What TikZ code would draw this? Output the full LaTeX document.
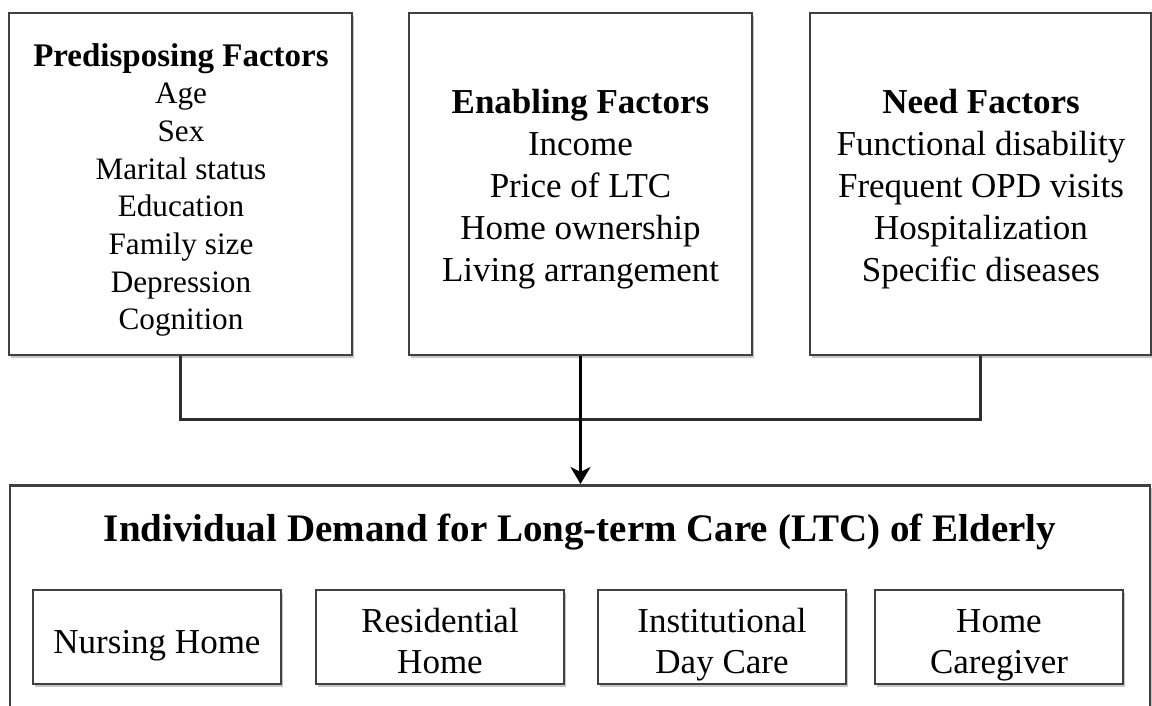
\documentclass[tikz,border=0pt]{standalone}
\usepackage{fontspec}
\setmainfont{Liberation Serif}
\usetikzlibrary{arrows.meta,shadows}
\definecolor{frame}{HTML}{404040}
\definecolor{wire}{HTML}{2E2E2E}

\begin{document}
\begin{tikzpicture}[x=1pt,y=-1pt,
  box/.style={draw=frame, line width=2.5pt, fill=white, inner sep=0pt,
    drop shadow={shadow xshift=2pt, shadow yshift=-2.5pt, fill=black, opacity=0.22}},
  txt/.style={anchor=base, inner sep=0pt, align=center},
  conn/.style={draw=wire, line width=3pt},
  feed/.style={draw=black, line width=3.5pt, -{Stealth[length=17pt,width=20pt,inset=5pt]}},
  factorbox/.style={box, minimum width=343pt, minimum height=342pt},
  carebox/.style={box, minimum width=248pt, minimum height=94pt},
]
\useasboundingbox (0,0) rectangle (1152,705);
\clip (0,0) rectangle (1152,705);
\fill[white] (0,0) rectangle (1152,705);

% --- three groups of factors ---
\node[factorbox] (p) at (180.5,184) {};
\node[factorbox] (e) at (580.5,184) {};
\node[box, minimum width=341pt, minimum height=342pt] (n) at (980.5,184) {};

\node[txt] (ptxt) at (181,66) {\fontsize{31.2}{37.7}\selectfont
  \begin{tabular}[t]{@{}c@{}}
  {\fontsize{33}{37.7}\selectfont\bfseries Predisposing Factors}\\
  Age\\ Sex\\ Marital status\\ Education\\ Family size\\ Depression\\ Cognition
  \end{tabular}};
\node[txt] (etxt) at (580.5,113) {\fontsize{35}{42}\selectfont
  \begin{tabular}[t]{@{}c@{}}
  \textbf{Enabling Factors}\\ Income\\ Price of LTC\\ Home ownership\\ Living arrangement
  \end{tabular}};
\node[txt] (ntxt) at (981,113) {\fontsize{35}{42}\selectfont
  \begin{tabular}[t]{@{}c@{}}
  \textbf{Need Factors}\\ Functional disability\\ Frequent OPD visits\\ Hospitalization\\ Specific diseases
  \end{tabular}};

% --- demand for long-term care ---
\node[box, minimum width=1140pt, minimum height=300pt, anchor=north] (d) at (580,484) {};
\node[txt] (title) at (580,541) {\fontsize{39}{46}\selectfont\bfseries
  Individual Demand for Long-term Care (LTC) of Elderly};

\node[carebox] (c1) at (157,637) {};
\node[carebox] (c2) at (440,637) {};
\node[carebox] (c3) at (722,637) {};
\node[carebox] (c4) at (999,637) {};

\node[txt] (t1) at (157,653) {\fontsize{35}{41.5}\selectfont Nursing Home};
\node[txt] (t2) at (440,632) {\fontsize{35}{41.5}\selectfont
  \begin{tabular}[t]{@{}c@{}}Residential\\ Home\end{tabular}};
\node[txt] (t3) at (722,632) {\fontsize{35}{41.5}\selectfont
  \begin{tabular}[t]{@{}c@{}}Institutional\\ Day Care\end{tabular}};
\node[txt] (t4) at (999,632) {\fontsize{35}{41.5}\selectfont
  \begin{tabular}[t]{@{}c@{}}Home\\ Caregiver\end{tabular}};

% --- connectors ---
\coordinate (bar) at (0,419);
\draw[conn] (p.south) -- (p.south |- bar) -- (n.south |- bar) -- (n.south);
\draw[feed] (e.south) -- (e.south |- d.north);
\end{tikzpicture}
\end{document}
